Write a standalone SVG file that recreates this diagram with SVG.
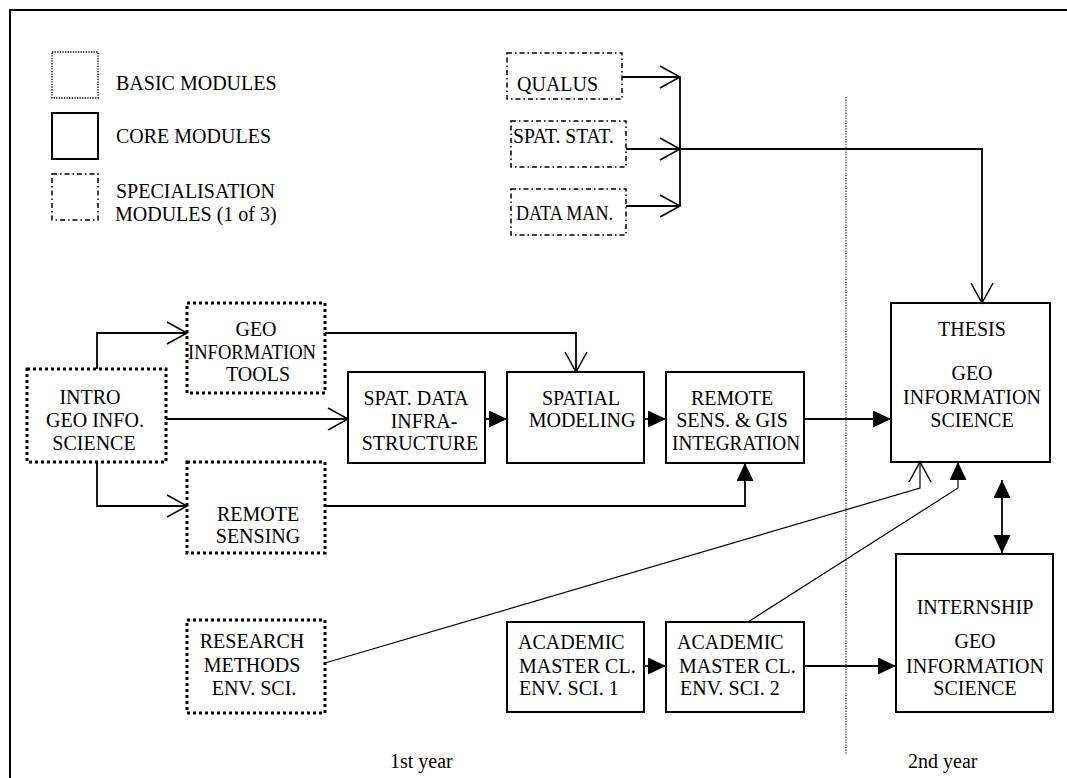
<svg xmlns="http://www.w3.org/2000/svg" width="1067" height="778" viewBox="0 0 1067 778">
<style>
text{font-family:"Liberation Serif","Times New Roman",serif;font-size:20px;fill:#000}
.c{text-anchor:middle}
.core{fill:none;stroke:#000;stroke-width:2}
.basic{fill:none;stroke:#000;stroke-width:3;stroke-dasharray:3 3}
.basicl{fill:none;stroke:#000;stroke-width:1.3;stroke-dasharray:1.3 1.3}
.spec{fill:none;stroke:#000;stroke-width:1.5;stroke-dasharray:5 3 1.5 3}
.ln{fill:none;stroke:#000;stroke-width:1.8}
.thin{fill:none;stroke:#000;stroke-width:1.2}
.div{fill:none;stroke:#444;stroke-width:1.3;stroke-dasharray:1.3 1.3}
.fa{marker-end:url(#filled)}
.oa{marker-end:url(#open)}
</style>
<defs>
<marker id="filled" markerUnits="userSpaceOnUse" markerWidth="20" markerHeight="20" refX="18" refY="8.5" orient="auto-start-reverse">
<path d="M0,0 L18,8.5 L0,17 Z" fill="#000"/>
</marker>
<marker id="open" markerUnits="userSpaceOnUse" markerWidth="24" markerHeight="26" refX="21" refY="12" orient="auto">
<path d="M1,1 L21,12 L1,23" fill="none" stroke="#000" stroke-width="1.5"/>
</marker>
</defs>
<rect x="0" y="0" width="1067" height="778" fill="#fff"/>
<path d="M10,778 V10 H1067" fill="none" stroke="#000" stroke-width="2"/>

<g id="legend">
<rect class="basicl" x="52" y="52" width="46" height="46"/>
<text x="116" y="90">BASIC MODULES</text>
<rect class="core" x="52" y="113" width="46" height="46"/>
<text x="116" y="143">CORE MODULES</text>
<rect class="spec" x="52" y="174" width="46" height="46"/>
<text x="116" y="198">SPECIALISATION</text>
<text x="115" y="221">MODULES (1 of 3)</text>
</g>

<g id="divider">
<line class="div" x1="846" y1="97" x2="846" y2="755"/>
</g>

<g id="connectors">
<path class="ln oa" d="M622,77 H680"/>
<path class="ln" d="M680,77 V206"/>
<path class="ln oa" d="M626,149 H680"/>
<path class="ln oa" d="M626,206 H680"/>
<path class="ln oa" d="M680,149 H982 V303"/>
<path class="ln oa" d="M97,369 V333 H187"/>
<path class="ln oa" d="M166,419 H348"/>
<path class="ln oa" d="M97,462 V506 H187"/>
<path class="ln oa" d="M325,333 H576 V372"/>
<path class="ln fa" d="M485,419 H507"/>
<path class="ln fa" d="M644,419 H666"/>
<path class="ln fa" d="M804,419 H891"/>
<path class="ln fa" d="M325,506 H745 V463"/>
<path class="thin oa" d="M325,663 L920,488 V462"/>
<path class="thin fa" d="M748,622 L958,488 V462"/>
<path class="ln fa" d="M1002,480 V553" style="marker-start:url(#filled)" />
<path class="ln fa" d="M644,666 H666"/>
<path class="ln fa" d="M804,666 H896"/>
</g>

<g id="qualus">
<rect class="spec" x="507" y="53" width="115" height="46"/>
<text x="517" y="91">QUALUS</text>
</g>
<g id="spatstat">
<rect class="spec" x="511" y="121" width="115" height="46"/>
<text x="513" y="143" textLength="101" lengthAdjust="spacingAndGlyphs">SPAT. STAT.</text>
</g>
<g id="dataman">
<rect class="spec" x="511" y="189" width="115" height="46"/>
<text x="516" y="220" textLength="97" lengthAdjust="spacingAndGlyphs">DATA MAN.</text>
</g>

<g id="geotools">
<rect class="basic" x="187" y="303" width="138" height="90"/>
<text class="c" x="256" y="336">GEO</text>
<text class="c" x="252" y="359" textLength="128" lengthAdjust="spacingAndGlyphs">INFORMATION</text>
<text class="c" x="258" y="381">TOOLS</text>
</g>
<g id="intro">
<rect class="basic" x="27" y="369" width="139" height="93"/>
<text class="c" x="90" y="404">INTRO</text>
<text class="c" x="95" y="427">GEO INFO.</text>
<text class="c" x="94" y="450">SCIENCE</text>
</g>
<g id="spatdata">
<rect class="core" x="348" y="372" width="137" height="91"/>
<text class="c" x="416" y="405">SPAT. DATA</text>
<text class="c" x="424" y="428">INFRA-</text>
<text class="c" x="420" y="450">STRUCTURE</text>
</g>
<g id="spatialmodeling">
<rect class="core" x="507" y="372" width="137" height="91"/>
<text class="c" x="581" y="405">SPATIAL</text>
<text class="c" x="582" y="427">MODELING</text>
</g>
<g id="remotegis">
<rect class="core" x="666" y="372" width="138" height="91"/>
<text class="c" x="732" y="405">REMOTE</text>
<text class="c" x="732" y="427">SENS. &amp; GIS</text>
<text class="c" x="736" y="450" textLength="128" lengthAdjust="spacingAndGlyphs">INTEGRATION</text>
</g>
<g id="remotesensing">
<rect class="basic" x="187" y="462" width="138" height="91"/>
<text class="c" x="258" y="521">REMOTE</text>
<text class="c" x="258" y="543">SENSING</text>
</g>
<g id="thesis">
<rect class="core" x="891" y="303" width="159" height="159"/>
<text class="c" x="972" y="336">THESIS</text>
<text class="c" x="972" y="380">GEO</text>
<text class="c" x="972" y="404">INFORMATION</text>
<text class="c" x="972" y="427">SCIENCE</text>
</g>
<g id="research">
<rect class="basic" x="187" y="620" width="138" height="93"/>
<text class="c" x="252" y="648">RESEARCH</text>
<text class="c" x="252" y="672">METHODS</text>
<text class="c" x="254" y="695">ENV. SCI.</text>
</g>
<g id="academic1">
<rect class="core" x="507" y="622" width="137" height="90"/>
<text x="518" y="649">ACADEMIC</text>
<text x="519" y="673">MASTER CL.</text>
<text x="519" y="695">ENV. SCI. 1</text>
</g>
<g id="academic2">
<rect class="core" x="666" y="622" width="138" height="90"/>
<text x="677" y="649">ACADEMIC</text>
<text x="679" y="673">MASTER CL.</text>
<text x="680" y="695">ENV. SCI. 2</text>
</g>
<g id="internship">
<rect class="core" x="896" y="554" width="157" height="158"/>
<text class="c" x="975" y="614">INTERNSHIP</text>
<text class="c" x="975" y="648">GEO</text>
<text class="c" x="975" y="673">INFORMATION</text>
<text class="c" x="975" y="695">SCIENCE</text>
</g>
<g id="labels">
<text x="390" y="768">1st year</text>
<text x="908" y="768">2nd year</text>
</g>
</svg>
